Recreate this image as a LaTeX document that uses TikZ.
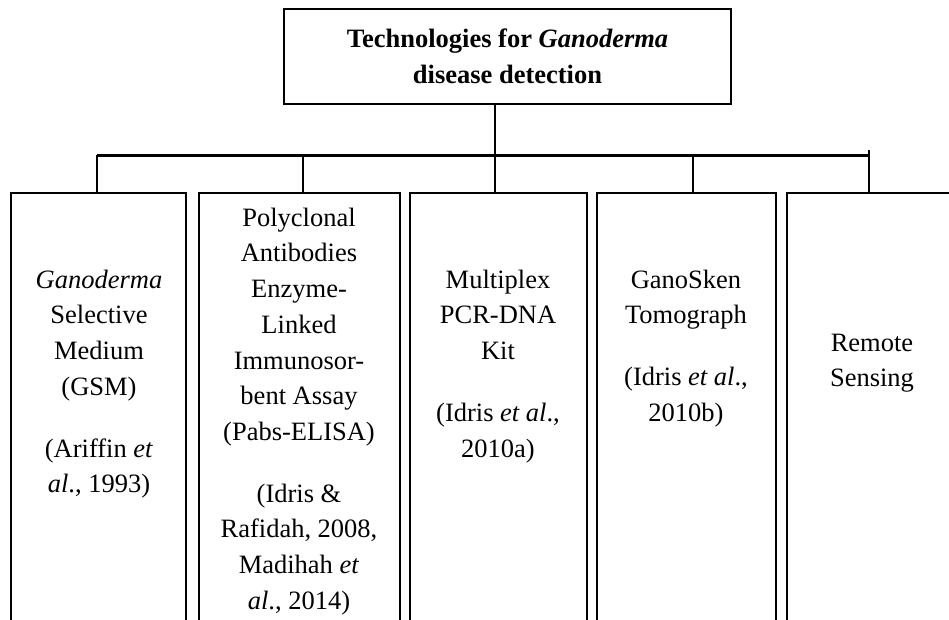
\documentclass[tikz,border=0pt]{standalone}
\usepackage{fontspec}
\setmainfont{Liberation Serif}
\begin{document}
\begin{tikzpicture}[x=1pt,y=-1pt,
  box/.style={draw=black,line width=1.6pt,inner sep=0pt,anchor=north,minimum height=520pt},
  txt/.style={inner sep=0pt,anchor=north,align=center,font=\fontsize{26.5}{35.7}\selectfont},
  bar/.style={line width=3pt},
  drop/.style={line width=2.2pt}]
\useasboundingbox (0,0) rectangle (949,619);
\fill[white] (0,0) rectangle (949,619);
\clip (0,0) rectangle (949,619);
% title
\node[draw=black,line width=1.6pt,minimum width=447pt,minimum height=95pt,inner sep=0pt,align=center,
  font=\fontsize{26.5}{35.7}\selectfont\bfseries] (title) at (507.5,56.5)
  {Technologies for \textit{Ganoderma}\\disease detection};
% boxes
\node[box,minimum width=175pt] (box1) at (98.5,192) {};
\node[box,minimum width=201pt] (box2) at (299.5,192) {};
\node[box,minimum width=177pt] (box3) at (498.5,192) {};
\node[box,minimum width=179pt] (box4) at (686.5,192) {};
\node[box,minimum width=170pt] (box5) at (872,192) {};
% bar coordinates
\coordinate (b1) at (97,155);
\coordinate (b2) at (303,155);
\coordinate (b3) at (495,155);
\coordinate (b4) at (693,155);
\coordinate (b5) at (869,155);
\coordinate (b5t) at (869,150);
\draw[bar] (b1) -- (b5);
\draw[line width=2.7pt] (b3 |- title.south) -- (b3);
\draw[drop] (b1) -- (b1 |- box1.north);
\draw[drop] (b2) -- (b2 |- box2.north);
\draw[drop] (b3) -- (b3 |- box3.north);
\draw[drop] (b4) -- (b4 |- box4.north);
\draw[drop] (b5t) -- (b5 |- box5.north);
% texts
\node[txt] (t1) at (99,263) {\strut\textit{Ganoderma}\\Selective\\Medium\\(GSM)\\[26pt](Ariffin \textit{et}\\\textit{al}., 1993)};
\node[txt] (t2) at (299,201) {\strut Polyclonal\\Antibodies\\Enzyme-\\Linked\\Immunosor-\\bent Assay\\(Pabs-ELISA)\\[26pt](Idris \&\\Rafidah, 2008,\\Madihah \textit{et}\\\textit{al}., 2014)};
\node[txt] (t3) at (498,263) {\strut Multiplex\\PCR-DNA\\Kit\\[26pt](Idris \textit{et al}.,\\2010a)};
\node[txt] (t4) at (686,263) {\strut GanoSken\\Tomograph\\[26pt](Idris \textit{et al}.,\\2010b)};
\node[txt] (t5) at (872,326) {\strut Remote\\Sensing};
\end{tikzpicture}
\end{document}
